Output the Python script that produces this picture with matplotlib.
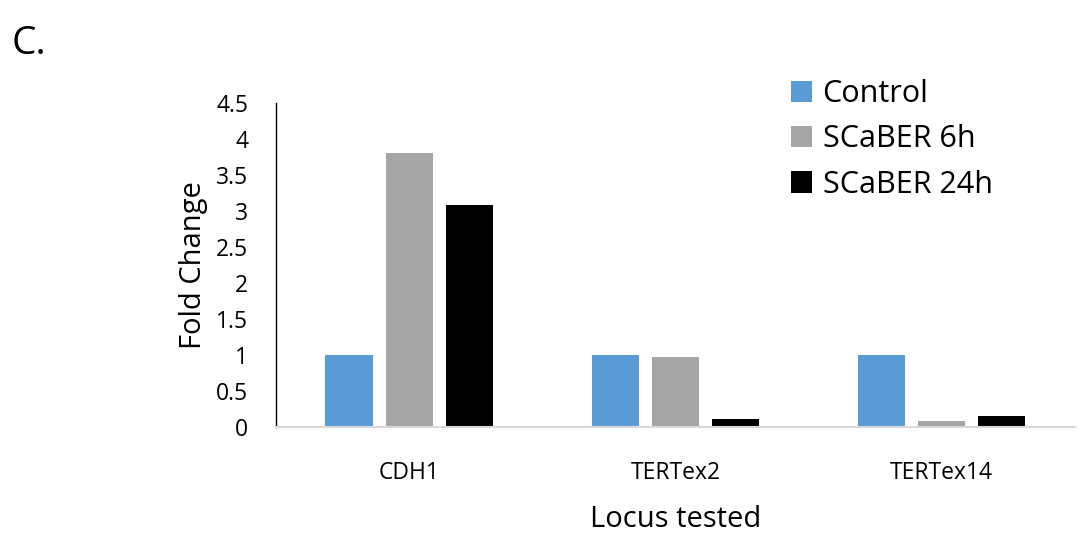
import matplotlib
matplotlib.use('Agg')
import matplotlib.pyplot as plt
import numpy as np

WIDTH = 1078
HEIGHT = 536
DPI = 100

loci = ['CDH1', 'TERTex2', 'TERTex14']
series = ['Control', 'SCaBER 6h', 'SCaBER 24h']
control = [1.0, 1.0, 1.0]
scaber_6h = [3.81, 0.98, 0.08]
scaber_24h = [3.09, 0.12, 0.15]
colors = ['#5B9BD5', '#A5A5A5', '#000000']
yticks = [0, 0.5, 1, 1.5, 2, 2.5, 3, 3.5, 4, 4.5]

plt.rcParams['font.family'] = ['Open Sans', 'DejaVu Sans']


def main():
    fig = plt.figure(figsize=(WIDTH / DPI, HEIGHT / DPI), dpi=DPI)
    ax = fig.add_axes([0.256, 0.203, 0.741, 0.605])

    x = np.arange(len(loci))
    step = 0.2256
    width = 0.177
    for i, (name, vals) in enumerate(zip(series, [control, scaber_6h, scaber_24h])):
        ax.bar(x + (i - 1) * step, vals, width, color=colors[i], label=name)

    ax.set_xlim(-0.5, len(loci) - 0.5)
    ax.set_ylim(0, 4.5)
    ax.set_yticks(yticks)
    ax.set_yticklabels(['%g' % t for t in yticks])
    ax.set_xticks(x)
    ax.set_xticklabels(loci)
    ax.tick_params(axis='both', length=0, labelsize=16.5)
    ax.tick_params(axis='y', pad=20)
    ax.tick_params(axis='x', pad=24)

    for s in ['top', 'right']:
        ax.spines[s].set_visible(False)
    ax.spines['left'].set_color('black')
    ax.spines['left'].set_linewidth(1.0)
    ax.spines['bottom'].set_color('#D9D9D9')
    ax.spines['bottom'].set_linewidth(1.5)

    ax.set_xlabel('Locus tested', fontsize=21, labelpad=15)
    ax.set_ylabel('Fold Change', fontsize=21, labelpad=6)

    ax.legend(loc='upper left', bbox_to_anchor=(0.722, 0.875),
              bbox_transform=fig.transFigure, frameon=False, fontsize=22,
              handlelength=0.7, handleheight=0.7, handletextpad=0.35,
              labelspacing=0.5, borderaxespad=0)

    fig.text(0.011, 0.9, 'C.', fontsize=28)

    fig.savefig('out.png', dpi=DPI)


if __name__ == '__main__':
    main()
